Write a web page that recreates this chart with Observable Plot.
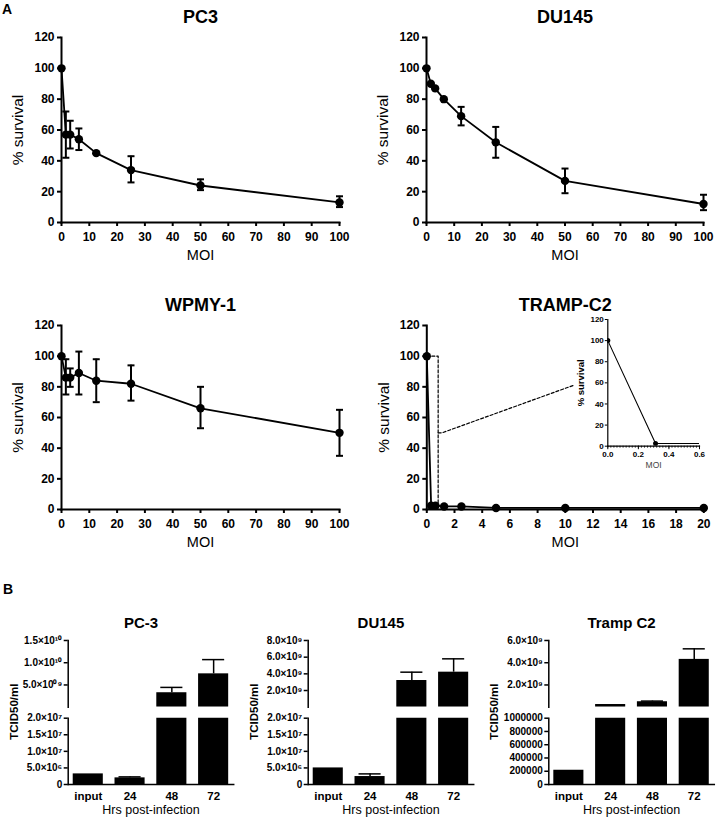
<!DOCTYPE html>
<html><head><meta charset="utf-8">
<script src="https://cdn.jsdelivr.net/npm/d3@7"></script>
<script src="https://cdn.jsdelivr.net/npm/@observablehq/plot@0.6"></script>
<style>
body{margin:0;background:#fff;}
#root{position:relative;width:716px;height:821px;overflow:hidden;font-family:'Liberation Sans',Arial,sans-serif;background:#fff;}
#root svg{position:absolute;overflow:visible;}
.lab{position:absolute;font-weight:bold;font-size:14px;line-height:14px;}
</style></head><body><div id="root"></div>
<script>
// ---------- Panel A data ----------
const yTicksA = [0, 20, 40, 60, 80, 100, 120];
const moiTicks = [0, 10, 20, 30, 40, 50, 60, 70, 80, 90, 100];
const trampTicks = [0, 2, 4, 6, 8, 10, 12, 14, 16, 18, 20];
const insetXTicks = [0, 0.2, 0.4, 0.6];
const insetMinorTicks = [0,0.02,0.04,0.06,0.08,0.1,0.12,0.14,0.16,0.18,0.2,0.22,0.24,0.26,0.28,0.3,0.32,0.34,0.36,0.38,0.4,0.42,0.44,0.46,0.48,0.5,0.52,0.54,0.56,0.58,0.6];

const moiA = [0, 1.5625, 3.125, 6.25, 12.5, 25, 50, 100];
const pc3Mean = [100, 57, 57, 54, 45, 34, 24, 13];
const pc3Lo   = [100, 42, 48, 47, 44, 26, 21, 10];
const pc3Hi   = [100, 72, 66, 61, 46, 43, 28, 17];

const du145Mean = [100, 90, 87, 80, 69, 52, 27, 12];
const du145Lo   = [100, 89, 86, 79, 63, 42, 19, 8];
const du145Hi   = [100, 91, 88, 81, 75, 62, 35, 18];

const wpmyMean = [100, 86, 86, 89, 84, 82, 66, 50];
const wpmyLo   = [100, 75, 80, 75, 70, 71, 53, 35];
const wpmyHi   = [100, 98, 92, 103, 98, 94, 80, 65];

const moiTramp  = [0, 0.3125, 0.625, 1.25, 2.5, 5, 10, 20];
const trampMean = [100, 2.5, 2.5, 2, 2, 1, 1, 1];

// zoom box and connector (TRAMP-C2 data coordinates)
const zoomBoxX = [0, 0.82, 0.82];
const zoomBoxY = [100, 100, 0];
const connectorX = [0.82, 1.1, 10.6];
const connectorY = [50, 50, 81];

// ---------- Panel B data ----------
const hrs = ["input", "24", "48", "72"];
const pc3Titer = [3.2e6, 2.0e6, 3.25e9, 7.5e9];
const pc3Err   = [0, 0.3e6, 1.2e9, 3.2e9];
const du145Titer = [5.0e6, 2.4e6, 3.2e9, 4.2e9];
const du145Err   = [0, 0.8e6, 1.0e9, 1.6e9];
const trampTiter = [2.15e5, 2.4e8, 4.9e8, 4.3e9];
const trampErr   = [0, 0, 0.06e9, 0.95e9];

const pc3UpperTicks = [5e9, 1e10, 1.5e10];
const pc3UpperLabels = ["5.0×10⁰⁹", "1.0×10¹⁰", "1.5×10¹⁰"];
const du145UpperTicks = [2e9, 4e9, 6e9, 8e9];
const du145UpperLabels = ["2.0×10⁹", "4.0×10⁹", "6.0×10⁹", "8.0×10⁹"];
const trampUpperTicks = [2e9, 4e9, 6e9];
const trampUpperLabels = ["2.0×10⁹", "4.0×10⁹", "6.0×10⁹"];
const lowerTicksE7 = [0, 5e6, 1e7, 1.5e7, 2e7];
const lowerLabelsE7 = ["0", "5.0×10⁶", "1.0×10⁷", "1.5×10⁷", "2.0×10⁷"];
const trampLowerTicks = [0, 2e5, 4e5, 6e5, 8e5, 1e6];
const trampLowerLabels = ["0", "200000", "400000", "600000", "800000", "1000000"];

// ---------- helpers ----------
const FONT = "'Liberation Sans', Arial, sans-serif";
const root = document.getElementById("root");
const cap = {draw(ctx, size) { const r = Math.sqrt(size / Math.PI); ctx.moveTo(-r, 0); ctx.lineTo(r, 0); }};
const baseStyle = {fontFamily: FONT, background: "transparent", overflow: "visible", color: "black"};
function place(svg, left, top) { svg.style.left = left + "px"; svg.style.top = top + "px"; root.appendChild(svg); }
function fmt(ticks, labels) { return d => { const i = ticks.findIndex(t => Math.abs(t - d) < 1e-9 * Math.max(1, Math.abs(t))); return i < 0 ? "" : labels[i]; }; }
function label(txt, x, y) { const d = document.createElement("div"); d.className = "lab"; d.textContent = txt; d.style.left = x + "px"; d.style.top = y + "px"; root.appendChild(d); }

function survivalPanel(o) {
  const data = o.moi.map((m, i) => ({m, v: o.mean[i], lo: o.lo ? o.lo[i] : o.mean[i], hi: o.hi ? o.hi[i] : o.mean[i]}));
  const err = data.filter(d => d.hi - d.lo > 2.5);
  const marks = [
    Plot.axisY({ticks: yTicksA, tickSize: 4, tickPadding: 3, fontSize: 12, fontWeight: "bold", strokeWidth: 2, label: null}),
    Plot.axisX({ticks: o.xTicks, tickSize: 4, tickPadding: 6, fontSize: 12, fontWeight: "bold", strokeWidth: 2, label: null}),
    Plot.frame({anchor: "left", strokeWidth: 2}),
    Plot.frame({anchor: "bottom", strokeWidth: 2}),
    ...(o.extra || []),
    Plot.line(data, {x: "m", y: "v", strokeWidth: 1.8}),
    Plot.ruleX(err, {x: "m", y1: "lo", y2: "hi", strokeWidth: 2}),
    Plot.dot(err, {x: "m", y: "lo", symbol: cap, r: 3.5, stroke: "black", fill: "none", strokeWidth: 2}),
    Plot.dot(err, {x: "m", y: "hi", symbol: cap, r: 3.5, stroke: "black", fill: "none", strokeWidth: 2}),
    Plot.dot(data, {x: "m", y: "v", r: 4.2, fill: "black", stroke: null}),
    Plot.text([o.title], {frameAnchor: "top", dy: -27, fontSize: 18, fontWeight: "bold"}),
    Plot.text(["% survival"], {frameAnchor: "left", textAnchor: "middle", dx: -43, rotate: -90, fontSize: 15.5}),
    Plot.text(["MOI"], {frameAnchor: "bottom", dy: 37, fontSize: 14.5})
  ];
  const svg = Plot.plot({
    width: o.width, height: o.height,
    marginLeft: o.ml, marginRight: o.mr, marginTop: o.mt, marginBottom: o.mb,
    style: baseStyle,
    x: {domain: o.xDomain},
    y: {domain: [0, 120]},
    marks
  });
  place(svg, o.left, o.top);
}

function barPanel(o) {
  const data = o.cats.map((h, i) => ({h, v: o.vals[i], e: o.errs[i]}));
  const lowerMax = o.lowerDomain[1];
  const W = 240, span = 165.5;
  const ml = o.axisX - o.left, mr = W - ml - span;
  const xOpts = {domain: o.cats, paddingInner: 0.28, paddingOuter: 0.12, round: false};
  const errData = data.filter(d => d.e > 0);
  const errUp = errData.filter(d => d.v + d.e > lowerMax);
  const errLow = errData.filter(d => d.v + d.e <= lowerMax);
  const upper = Plot.plot({
    width: W, height: 146.7, marginLeft: ml, marginRight: mr, marginTop: 80, marginBottom: 0,
    style: baseStyle,
    x: {...xOpts, axis: null},
    y: {domain: o.upperDomain, axis: null},
    marks: [
      Plot.axisY({ticks: o.upperTicks, tickFormat: fmt(o.upperTicks, o.upperLabels), tickSize: 4, tickPadding: 2, fontSize: 10, fontWeight: "bold", strokeWidth: 1.5, label: null}),
      Plot.frame({anchor: "left", strokeWidth: 1.5}),
      Plot.barY(data.filter(d => d.v > lowerMax), {x: "h", y: "v", fill: "black", clip: true}),
      Plot.ruleX(errUp, {x: "h", y1: "v", y2: d => d.v + d.e, strokeWidth: 1.5}),
      Plot.tickY(errUp, {x: "h", y: d => d.v + d.e, strokeWidth: 1.5, insetLeft: 4, insetRight: 4}),
      Plot.text([o.title], {frameAnchor: "top", dx: -10, dy: -23, fontSize: 15, fontWeight: "bold"})
    ]
  });
  place(upper, o.left, 560);
  const lower = Plot.plot({
    width: W, height: 121, marginLeft: ml, marginRight: mr, marginTop: 17.7, marginBottom: 37,
    style: baseStyle,
    x: {...xOpts},
    y: {domain: o.lowerDomain, axis: null},
    marks: [
      Plot.axisY({ticks: o.lowerTicks, tickFormat: fmt(o.lowerTicks, o.lowerLabels), tickSize: 4, tickPadding: 2, fontSize: 10, fontWeight: "bold", strokeWidth: 1.5, label: null}),
      Plot.axisX({tickSize: 0, tickPadding: 7, fontSize: 11.5, fontWeight: "bold", label: null}),
      Plot.frame({anchor: "left", strokeWidth: 1.5}),
      Plot.frame({anchor: "bottom", strokeWidth: 1.5}),
      Plot.barY(data, {x: "h", y: "v", fill: "black", clip: true}),
      Plot.ruleX(errLow, {x: "h", y1: "v", y2: d => d.v + d.e, strokeWidth: 1.5}),
      Plot.tickY(errLow, {x: "h", y: d => d.v + d.e, strokeWidth: 1.5, insetLeft: 4, insetRight: 4}),
      Plot.text(["Hrs post-infection"], {frameAnchor: "bottom", dy: 29.5, fontSize: 12.5}),
      Plot.text(["TCID50/ml"], {frameAnchor: "top-left", textAnchor: "middle", dx: -58.5, dy: -6.5, rotate: -90, fontSize: 11.5, fontWeight: "bold"})
    ]
  });
  place(lower, o.left, 700);
}

// ---------- Panel A ----------
label("A", 2, 2);
survivalPanel({title: "PC3", moi: moiA, mean: pc3Mean, lo: pc3Lo, hi: pc3Hi, xDomain: [0, 100], xTicks: moiTicks,
  left: 0, top: 0, width: 358, height: 270, ml: 61, mr: 19, mt: 37, mb: 48});
survivalPanel({title: "DU145", moi: moiA, mean: du145Mean, lo: du145Lo, hi: du145Hi, xDomain: [0, 100], xTicks: moiTicks,
  left: 358, top: 0, width: 358, height: 270, ml: 68, mr: 13, mt: 37, mb: 48});
survivalPanel({title: "WPMY-1", moi: moiA, mean: wpmyMean, lo: wpmyLo, hi: wpmyHi, xDomain: [0, 100], xTicks: moiTicks,
  left: 0, top: 280, width: 358, height: 277, ml: 61, mr: 19, mt: 45, mb: 48});
survivalPanel({title: "TRAMP-C2", moi: moiTramp, mean: trampMean, xDomain: [0, 20], xTicks: trampTicks,
  left: 358, top: 280, width: 358, height: 277, ml: 68.3, mr: 12.7, mt: 45, mb: 48,
  extra: [
    Plot.line(zoomBoxX.map((x, i) => ({x, y: zoomBoxY[i]})), {x: "x", y: "y", strokeWidth: 1.2, strokeDasharray: "3,2"}),
    Plot.line(connectorX.map((x, i) => ({x, y: connectorY[i]})), {x: "x", y: "y", strokeWidth: 1.2, strokeDasharray: "3,2"})
  ]});

// inset
(function () {
  const data = moiTramp.map((m, i) => ({m, v: trampMean[i]}));
  const svg = Plot.plot({
    width: 156, height: 171, marginLeft: 47.3, marginRight: 17, marginTop: 14, marginBottom: 30.3,
    style: baseStyle,
    x: {domain: [0, 0.6]},
    y: {domain: [0, 120]},
    marks: [
      Plot.axisY({ticks: yTicksA, tickSize: 2.5, tickPadding: 1.5, fontSize: 8, fontWeight: "bold", strokeWidth: 1, label: null}),
      Plot.axisX({ticks: insetMinorTicks, tickFormat: () => "", tickSize: 2, strokeWidth: 0.8, label: null}),
      Plot.axisX({ticks: insetXTicks, tickFormat: d => d.toFixed(1), tickSize: 3.5, tickPadding: 2, fontSize: 8, fontWeight: "bold", strokeWidth: 1, label: null}),
      Plot.frame({anchor: "left", strokeWidth: 1.2}),
      Plot.frame({anchor: "bottom", strokeWidth: 1.2}),
      Plot.line(data, {x: "m", y: "v", strokeWidth: 1.1, clip: true}),
      Plot.dot(data, {x: "m", y: "v", r: 2.5, fill: "black", stroke: null, clip: true}),
      Plot.text(["% survival"], {frameAnchor: "left", textAnchor: "middle", dx: -27, rotate: -90, fontSize: 9.5, fontWeight: "bold"}),
      Plot.text(["MOI"], {frameAnchor: "bottom", dy: 22, dx: 0, fontSize: 8.5, fill: "#444"})
    ]
  });
  place(svg, 560, 305);
})();

// ---------- Panel B ----------
label("B", 3, 582);
barPanel({title: "PC-3", cats: hrs, vals: pc3Titer, errs: pc3Err, left: 0, axisX: 67.7,
  upperDomain: [0, 1.5e10], upperTicks: pc3UpperTicks, upperLabels: pc3UpperLabels,
  lowerDomain: [0, 2e7], lowerTicks: lowerTicksE7, lowerLabels: lowerLabelsE7});
barPanel({title: "DU145", cats: hrs, vals: du145Titer, errs: du145Err, left: 240, axisX: 307.7,
  upperDomain: [0, 8e9], upperTicks: du145UpperTicks, upperLabels: du145UpperLabels,
  lowerDomain: [0, 2e7], lowerTicks: lowerTicksE7, lowerLabels: lowerLabelsE7});
barPanel({title: "Tramp C2", cats: hrs, vals: trampTiter, errs: trampErr, left: 476, axisX: 548.3,
  upperDomain: [0, 6e9], upperTicks: trampUpperTicks, upperLabels: trampUpperLabels,
  lowerDomain: [0, 1e6], lowerTicks: trampLowerTicks, lowerLabels: trampLowerLabels});
</script></body></html>
